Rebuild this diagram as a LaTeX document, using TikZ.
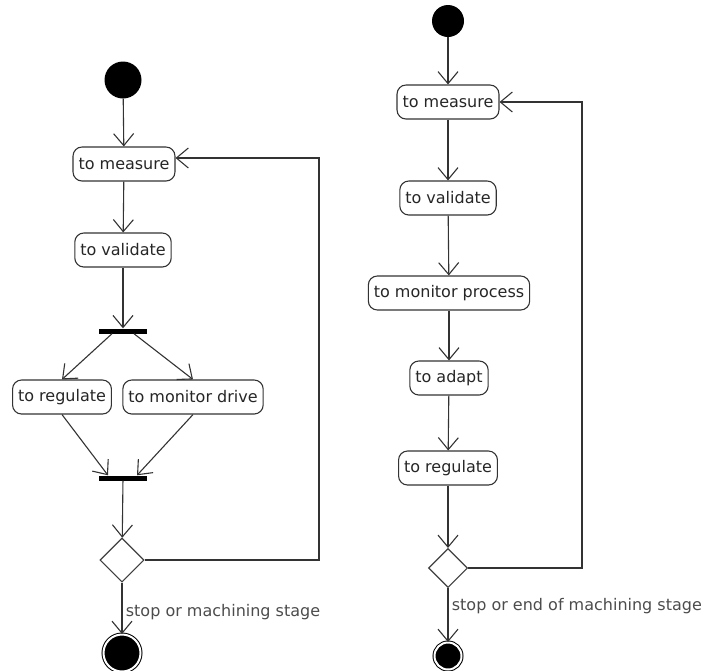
\documentclass[tikz,border=0pt]{standalone}
\usepackage{fontspec}
\setmainfont{DejaVu Sans}
\usetikzlibrary{arrows.meta,shapes.geometric,calc}

\begin{document}
\begin{tikzpicture}[x=1pt,y=-1pt,
    act/.style={draw=black!80, line width=1.1pt, rounded corners=9pt, minimum height=34pt,
      inner xsep=5.5pt, text=black!85, font=\fontsize{16}{19}\selectfont},
    flow/.style={draw=black!80, line width=1.1pt, -{Straight Barb[length=12pt,width=20pt]}},
    syncbar/.style={fill=black, minimum width=48pt, minimum height=5pt, inner sep=0pt},
    decision/.style={diamond, draw=black!75, line width=1.1pt, minimum width=44pt,
      minimum height=44pt, inner sep=0pt},
    initial/.style={circle, fill=black, inner sep=0pt},
    final/.style={circle, draw=black, fill=black, double=white, double distance=2pt,
      line width=1pt, inner sep=0pt},
    guard/.style={text=black!70, font=\fontsize{16}{19}\selectfont}]

    \useasboundingbox (0,0) rectangle (706,670);

    % Left activity
    \node[initial, minimum size=37pt] (start1) at (123,80) {};
    \node[act] (meas1) at (124,164) {to measure};
    \node[act] (vali1) at (123,250) {to validate};
    \node[syncbar] (fork1) at (123,331) {};
    \node[act] (reg1) at (62,397) {to regulate};
    \node[act] (mon1) at (193,397) {to monitor drive};
    \node[syncbar] (join1) at (123,478) {};
    \node[decision] (dec1) at (122,560) {};
    \node[final, minimum size=37pt] (end1) at (122,653) {};
    \coordinate (loop1) at (319,360);

    % Right activity
    \node[initial, minimum size=32pt] (start2) at (448,21) {};
    \node[act] (meas2) at (448,102) {to measure};
    \node[act] (vali2) at (448,198) {to validate};
    \node[act] (proc2) at (449,293) {to monitor process};
    \node[act] (adap2) at (449,378) {to adapt};
    \node[act] (reg2) at (448,468) {to regulate};
    \node[decision, minimum width=39pt, minimum height=39pt] (dec2) at (448,568) {};
    \node[final, minimum size=27pt] (end2) at (448,656) {};
    \coordinate (loop2) at (582,330);

    % Left flows
    \draw[flow] (start1) -- (meas1);
    \draw[flow] (meas1) -- (vali1);
    \draw[flow] (vali1) -- (fork1);
    \draw[flow] ($(fork1.south)+(-11,0)$) -- (reg1.north);
    \draw[flow] ($(fork1.south)+(11,0)$) -- (mon1.north);
    \draw[flow] (reg1.south) -- ($(join1.north)+(-15,0)$);
    \draw[flow] (mon1.south) -- ($(join1.north)+(14,0)$);
    \draw[flow] (join1) -- (dec1);
    \draw[flow] (dec1.east) -| (loop1) |- ($(meas1.east)+(0,-6)$);
    \draw[flow] (dec1.south) -- node[guard, anchor=west, pos=0.58] {stop or machining stage} (end1.north);

    % Right flows
    \draw[flow] (start2) -- (meas2);
    \draw[flow] (meas2) -- (vali2);
    \draw[flow] (vali2) -- (proc2);
    \draw[flow] (proc2) -- (adap2);
    \draw[flow] (adap2) -- (reg2);
    \draw[flow] (reg2) -- (dec2);
    \draw[flow] (dec2.east) -| (loop2) |- (meas2.east);
    \draw[flow] (dec2.south) -- node[guard, anchor=west, pos=0.33] {stop or end of machining stage} (end2.north);
\end{tikzpicture}
\end{document}
